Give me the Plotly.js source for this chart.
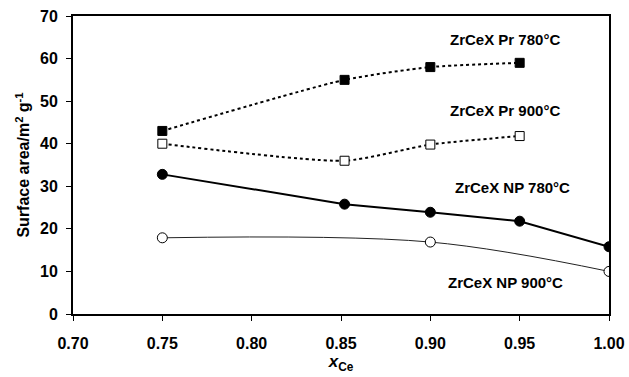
<!DOCTYPE html>
<html><head><meta charset="utf-8">
<script src="https://cdn.plot.ly/plotly-3.0.1.min.js"></script>
<style>html,body{margin:0;padding:0;background:#fff}</style>
</head><body><div id="chart" style="width:629px;height:377px"></div>
<script>
const xPr = [0.75, 0.852, 0.90, 0.95];
const pr780 = [43, 55, 58, 59];
const pr900 = [40, 36, 39.8, 41.8];
const xNP780 = [0.75, 0.852, 0.90, 0.95, 1.00];
const np780 = [32.8, 25.8, 23.9, 21.8, 15.8];
const xNP900 = [0.75, 0.90, 1.00];
const np900 = [17.9, 16.9, 10];
const xTicks = [0.70, 0.75, 0.80, 0.85, 0.90, 0.95, 1.00];
const xTickText = ["0.70", "0.75", "0.80", "0.85", "0.90", "0.95", "1.00"];
const yTicks = [0, 10, 20, 30, 40, 50, 60, 70];
const labels = ["ZrCeX Pr 780°C", "ZrCeX Pr 900°C", "ZrCeX NP 780°C", "ZrCeX NP 900°C"];
const labelX = [0.942, 0.942, 0.946, 0.942];
const labelY = [64.4, 47.9, 29.6, 7.3];

const F = "Liberation Sans, Arial, sans-serif";
const traces = [
  {x: xPr, y: pr780, mode: 'lines+markers', line: {color: '#000', width: 2, dash: 'dot', shape: 'spline', smoothing: 0.6},
   marker: {symbol: 'square', size: 9, color: '#000', line: {color: '#000', width: 1}}},
  {x: xPr, y: pr900, mode: 'lines+markers', line: {color: '#000', width: 2, dash: 'dot', shape: 'spline', smoothing: 0.6},
   marker: {symbol: 'square', size: 9, color: '#fff', line: {color: '#000', width: 1}}},
  {x: xNP780, y: np780, mode: 'lines+markers', line: {color: '#000', width: 2},
   marker: {symbol: 'circle', size: 10, color: '#000', line: {color: '#000', width: 1}}},
  {x: xNP900, y: np900, mode: 'lines+markers', line: {color: '#222', width: 1, shape: 'spline', smoothing: 1},
   marker: {symbol: 'circle', size: 10, color: '#fff', line: {color: '#000', width: 1}}}
];
const annotations = labels.map((t, i) => ({
  x: labelX[i], y: labelY[i], xref: 'x', yref: 'y', text: '<b>' + t + '</b>', showarrow: false,
  font: {family: F, size: 15, color: '#000'}
}));
const layout = {
  width: 629, height: 377,
  margin: {l: 73, r: 20, t: 16, b: 63},
  paper_bgcolor: '#fff', plot_bgcolor: '#fff',
  showlegend: false,
  font: {family: F, color: '#000'},
  xaxis: {range: [0.70, 1.00], tickvals: xTicks, ticktext: xTickText.map(s => '<b>' + s + '</b>'),
    showgrid: false, zeroline: false, showline: true, linecolor: '#000', linewidth: 2, mirror: true,
    ticks: 'outside', ticklen: 5, tickcolor: '#000', tickfont: {family: F, size: 16}, ticklabelstandoff: 9,
    title: {text: '<b><i>x</i></b><sub><b>Ce</b></sub>', font: {family: F, size: 17}, standoff: 4}},
  yaxis: {range: [0, 70], tickvals: yTicks, ticktext: yTicks.map(v => '<b>' + v + '</b>'),
    showgrid: false, zeroline: false, showline: true, linecolor: '#000', linewidth: 2, mirror: true,
    ticks: 'outside', ticklen: 5, tickcolor: '#000', tickfont: {family: F, size: 16}, ticklabelstandoff: 5,
    title: {text: '<b>Surface area/m<sup>2</sup> g<sup>-1</sup></b>', font: {family: F, size: 16}, standoff: 6}},
  annotations: annotations
};
Plotly.newPlot('chart', traces, layout, {staticPlot: true, displayModeBar: false});
</script></body></html>
